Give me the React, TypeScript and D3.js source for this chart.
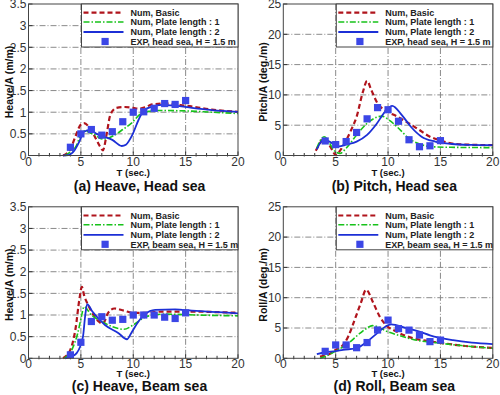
import React from 'react';
import * as d3 from 'd3';

type Pt = [number, number];

// ---- (a) Heave, head sea ----
const headHeaveBasic: Pt[] = [[3.3, 0], [4, 0.15], [4.5, 0.45], [5, 0.72], [5.3, 0.75], [5.8, 0.65], [6.3, 0.45], [6.8, 0.22], [7.1, 0.12], [7.5, 0.55], [7.8, 0.93], [8.4, 1.1], [9.2, 1.12], [10, 1.1], [10.5, 1.08], [11.2, 1.12], [11.8, 1.18], [13, 1.2], [15, 1.15], [17.5, 1.06], [20, 1.01]];
const headHeavePlate1: Pt[] = [[3.5, 0], [4, 0.08], [4.5, 0.2], [5, 0.47], [5.4, 0.57], [5.9, 0.52], [6.4, 0.47], [6.8, 0.4], [7.3, 0.38], [8.2, 0.47], [9, 0.6], [9.8, 0.74], [10.7, 0.96], [11.5, 1.02], [12.3, 1.04], [15, 1.03], [17.5, 1.0], [20, 0.97]];
const headHeavePlate2: Pt[] = [[3.3, 0], [3.8, 0.01], [4.4, 0.12], [4.85, 0.32], [5.3, 0.55], [5.9, 0.59], [6.5, 0.5], [7, 0.45], [8, 0.36], [8.9, 0.22], [9.3, 0.25], [9.9, 0.47], [10.5, 0.82], [11, 1.04], [11.8, 1.13], [12.7, 1.17], [14, 1.15], [15.6, 1.1], [17.5, 1.05], [20, 1.01]];
const headHeaveExpT = [4, 5, 6, 7, 8, 9, 10, 11, 12, 13, 14, 15];
const headHeaveExp = [0.19, 0.5, 0.6, 0.47, 0.55, 0.78, 1.0, 1.01, 1.09, 1.2, 1.18, 1.27];

// ---- (b) Pitch, head sea ----
const headPitchBasic: Pt[] = [[3.1, 0.8], [3.5, 2.0], [3.9, 2.8], [4.3, 2.0], [4.7, 0.8], [5.0, 0.05], [5.5, 1.0], [6, 2.5], [6.5, 4.3], [7, 6.4], [7.6, 10.5], [8, 12.3], [8.4, 10.8], [9, 8.6], [9.8, 7.4], [10.9, 6.4], [12, 5.3], [13, 4.2], [14, 3.1], [15, 2.5], [16, 2.0], [17.5, 1.8], [20, 1.7]];
const headPitchPlate1: Pt[] = [[3.2, 1.2], [3.5, 2.4], [3.9, 3.1], [4.3, 2.4], [4.7, 1.2], [5.0, 0.6], [5.4, 0.35], [6, 1.2], [7, 3.4], [8, 5.3], [8.9, 6.3], [9.4, 6.5], [10.1, 5.85], [11, 4.5], [12, 2.8], [13, 1.9], [14.2, 1.45], [16, 1.35], [20, 1.3]];
const headPitchPlate2: Pt[] = [[3.2, 1.0], [3.5, 2.0], [3.9, 2.7], [4.5, 2.2], [5.3, 1.5], [6, 1.8], [7, 2.3], [8, 3.4], [8.9, 5.2], [9.7, 7.2], [10.4, 8.2], [11.3, 6.7], [12.2, 4.7], [13.2, 3.1], [14.5, 2.3], [16.1, 1.9], [18, 1.75], [20, 1.7]];
const headPitchExpT = [4, 5, 6, 7, 8, 9, 10, 11, 12, 13, 14, 15];
const headPitchExp = [2.4, 1.8, 2.3, 3.8, 6.05, 7.9, 7.55, 5.65, 2.6, 1.45, 1.6, 2.45];

// ---- (c) Heave, beam sea ----
const beamHeaveBasic: Pt[] = [[3.3, 0], [4, 0.2], [4.5, 0.7], [4.85, 1.35], [5.1, 1.65], [5.3, 1.46], [5.7, 1.23], [6.2, 1.0], [6.7, 0.85], [7.1, 0.8], [7.6, 1.05], [8.2, 1.15], [9.1, 1.1], [10, 1.05], [11, 1.05], [12.9, 1.08], [15, 1.08], [20, 1.05]];
const beamHeavePlate1: Pt[] = [[3.4, 0], [4.2, 0.23], [4.7, 0.58], [5.05, 0.96], [5.3, 1.19], [6, 1.0], [7, 0.85], [8, 0.73], [9.1, 0.67], [10, 0.77], [11.1, 0.95], [12, 1.0], [13, 1.02], [16, 1.0], [20, 0.98]];
const beamHeavePlate2: Pt[] = [[3.5, 0], [4.1, 0.04], [4.6, 0.12], [5.2, 0.5], [5.4, 0.96], [5.6, 1.25], [6.1, 1.08], [7.3, 0.77], [8.6, 0.58], [9.4, 0.44], [9.8, 0.58], [10.5, 0.85], [11.1, 1.02], [12.1, 1.12], [14, 1.13], [15.6, 1.1], [20, 1.04]];
const beamHeaveExpT = [4, 5, 6, 7, 8, 9, 10, 11, 12, 13, 14, 15];
const beamHeaveExp = [0.08, 0.37, 0.85, 0.96, 0.88, 0.9, 1.0, 1.0, 1.0, 0.95, 0.92, 1.05];

// ---- (d) Roll, beam sea ----
const beamRollBasic: Pt[] = [[3.5, 0.3], [4.5, 0.8], [5, 1.4], [5.8, 2.4], [6.2, 3.6], [6.8, 6.3], [7.4, 9.1], [7.9, 11.3], [8.6, 9.1], [9.2, 6.9], [9.8, 5.5], [10.8, 4.4], [12.4, 3.3], [14, 2.8], [15, 2.55], [17, 2.1], [20, 1.7]];
const beamRollPlate1: Pt[] = [[3.5, 0], [4, 0.3], [5, 1.2], [6, 2.2], [7.3, 4.1], [8, 5.0], [8.5, 5.4], [9, 5.2], [9.8, 4.5], [11, 3.8], [12.4, 3.1], [14.9, 2.5], [17, 2.1], [20, 1.65]];
const beamRollPlate2: Pt[] = [[3.2, 0.7], [4, 1.0], [5, 1.2], [5.7, 1.4], [7.05, 1.7], [8, 2.75], [9, 4.2], [9.8, 5.3], [10.3, 5.6], [11.7, 5.0], [13, 4.4], [14, 3.8], [16.2, 3.0], [18, 2.6], [20, 2.35]];
const beamRollExpT = [4, 5, 6, 7, 8, 9, 10, 11, 12, 13, 14, 15];
const beamRollExp = [1.15, 2.2, 2.2, 1.75, 2.6, 4.67, 6.3, 4.9, 4.65, 3.85, 2.75, 3.0];

const xTicks = [0, 5, 10, 15, 20];
const heaveTicks = [0, 0.5, 1, 1.5, 2, 2.5, 3, 3.5];
const degTicks = [0, 5, 10, 15, 20, 25];

const legendNames = ['Num, Basic', 'Num, Plate length : 1', 'Num, Plate length : 2'];

const RED = '#b0141c';
const GREEN = '#17c21a';
const BLUE = '#1c2fd6';
const SQ = '#3b46e6';
const FONT = 'Liberation Sans, Arial, sans-serif';

interface PanelProps {
  left: number;
  top: number;
  yMax: number;
  yTicks: number[];
  yLabel: string;
  title: string;
  expLabel: string;
  basic: Pt[];
  plate1: Pt[];
  plate2: Pt[];
  expT: number[];
  expV: number[];
  xLabelDy: number;
  titleDy: number;
}

const W = 209.5;
const H = 151.5;

const Panel = (p: PanelProps) => {
  const x = d3.scaleLinear().domain([0, 20]).range([p.left, p.left + W]);
  const y = d3.scaleLinear().domain([0, p.yMax]).range([p.top + H, p.top]);
  const line = d3.line<Pt>().x(d => x(d[0])).y(d => y(d[1])).curve(d3.curveMonotoneX);
  const minor = d3.range(0, 21, 1).filter(v => v % 5 !== 0);

  const lgX = p.left + 53;
  const lgY = p.top;
  const rows = [8.7, 18, 28, 37.5];

  return (
    <g>
      {/* grid */}
      {xTicks.slice(1, -1).map(t => (
        <line key={'gx' + t} x1={x(t)} x2={x(t)} y1={p.top} y2={p.top + H}
          stroke="#8a8a8a" strokeWidth={1} strokeDasharray="6,2,1,2" />
      ))}
      {p.yTicks.slice(1, -1).map(t => (
        <line key={'gy' + t} x1={p.left} x2={p.left + W} y1={y(t)} y2={y(t)}
          stroke="#8a8a8a" strokeWidth={1} strokeDasharray="6,2,1,2" />
      ))}

      {/* ticks */}
      {xTicks.map(t => (
        <line key={'tx' + t} x1={x(t)} x2={x(t)} y1={p.top + H} y2={p.top + H - 4} stroke="#333" />
      ))}
      {minor.map(t => (
        <line key={'mx' + t} x1={x(t)} x2={x(t)} y1={p.top + H + 1} y2={p.top + H - 2.5} stroke="#333" />
      ))}
      {p.yTicks.map(t => (
        <line key={'ty' + t} x1={p.left} x2={p.left + 4} y1={y(t)} y2={y(t)} stroke="#333" />
      ))}

      {/* curves */}
      <path d={line(p.basic) || ''} fill="none" stroke={RED} strokeWidth={2.2} strokeDasharray="5,3" />
      <path d={line(p.plate1) || ''} fill="none" stroke={GREEN} strokeWidth={1.6} strokeDasharray="6,2,1.5,2" />
      <path d={line(p.plate2) || ''} fill="none" stroke={BLUE} strokeWidth={1.8} />
      {p.expT.map((t, i) => (
        <rect key={'e' + t} x={x(t) - 3.6} y={y(p.expV[i]) - 3.6} width={7.2} height={7.2} fill={SQ} />
      ))}

      {/* frame */}
      <rect x={p.left} y={p.top} width={W} height={H} fill="none" stroke="#444" strokeWidth={1} />

      {/* legend */}
      <rect x={lgX} y={lgY} width={p.left + W - lgX} height={43} fill="#fff" stroke="#444" strokeWidth={1} />
      <line x1={lgX + 2} x2={lgX + 42} y1={lgY + rows[0]} y2={lgY + rows[0]} stroke={RED} strokeWidth={2.2} strokeDasharray="5,3" />
      <line x1={lgX + 2} x2={lgX + 42} y1={lgY + rows[1]} y2={lgY + rows[1]} stroke={GREEN} strokeWidth={1.6} strokeDasharray="6,2,1.5,2" />
      <line x1={lgX + 2} x2={lgX + 42} y1={lgY + rows[2]} y2={lgY + rows[2]} stroke={BLUE} strokeWidth={1.8} />
      <rect x={lgX + 20} y={lgY + rows[3] - 3.6} width={7.2} height={7.2} fill={SQ} />
      {[...legendNames, p.expLabel].map((s, i) => (
        <text key={s} x={lgX + 49} y={lgY + rows[i] + 3.3} fontSize={9} fontWeight="bold" fill="#222"
          fontFamily={FONT}>{s}</text>
      ))}

      {/* tick labels */}
      {xTicks.map(t => (
        <text key={'lx' + t} x={x(t)} y={p.top + H + 10} textAnchor="middle" fontSize={12} fill="#333"
          fontFamily={FONT}>{String(t)}</text>
      ))}
      {p.yTicks.map(t => (
        <text key={'ly' + t} x={p.left - 2} y={y(t) + 4.3} textAnchor="end" fontSize={12} fill="#333"
          fontFamily={FONT}>{String(t)}</text>
      ))}

      {/* axis titles */}
      <text x={p.left + W / 2} y={p.top + H + p.xLabelDy} textAnchor="middle" fontSize={9.5} fontWeight="bold" fill="#111"
        fontFamily={FONT}>T (sec.)</text>
      <text transform={`translate(${p.left - 16},${p.top + 78}) rotate(-90)`} textAnchor="middle" fontSize={10.5}
        fontWeight="bold" fill="#111" fontFamily={FONT}>{p.yLabel}</text>
      <text x={p.left + 111} y={p.top + H + p.titleDy} textAnchor="middle" fontSize={14} fontWeight="bold" fill="#111"
        fontFamily={FONT}>{p.title}</text>
    </g>
  );
};

const App = () => {
  return (
    <svg width={500} height={395} viewBox="0 0 500 395"
      style={{ position: 'absolute', left: 0, top: 0, background: '#fff' }}>
      <rect width={500} height={395} fill="#fff" />
      <Panel left={28.5} top={4} yMax={3.5} yTicks={heaveTicks} yLabel="Heave/A (m/m)" title="(a) Heave, Head sea"
        expLabel="EXP, head sea, H = 1.5 m" basic={headHeaveBasic} plate1={headHeavePlate1} plate2={headHeavePlate2}
        expT={headHeaveExpT} expV={headHeaveExp} xLabelDy={20.5} titleDy={35} />
      <Panel left={283.3} top={4} yMax={25} yTicks={degTicks} yLabel="Pitch/A (deg./m)" title="(b) Pitch, Head sea"
        expLabel="EXP, head sea, H = 1.5 m" basic={headPitchBasic} plate1={headPitchPlate1} plate2={headPitchPlate2}
        expT={headPitchExpT} expV={headPitchExp} xLabelDy={20.5} titleDy={35} />
      <Panel left={28.5} top={206.8} yMax={3.5} yTicks={heaveTicks} yLabel="Heave/A (m/m)" title="(c) Heave, Beam sea"
        expLabel="EXP, beam sea, H = 1.5 m" basic={beamHeaveBasic} plate1={beamHeavePlate1} plate2={beamHeavePlate2}
        expT={beamHeaveExpT} expV={beamHeaveExp} xLabelDy={19} titleDy={32.3} />
      <Panel left={283.3} top={206.8} yMax={25} yTicks={degTicks} yLabel="Roll/A (deg./m)" title="(d) Roll, Beam sea"
        expLabel="EXP, beam sea, H = 1.5 m" basic={beamRollBasic} plate1={beamRollPlate1} plate2={beamRollPlate2}
        expT={beamRollExpT} expV={beamRollExp} xLabelDy={19} titleDy={32.3} />
    </svg>
  );
};

export default App;
